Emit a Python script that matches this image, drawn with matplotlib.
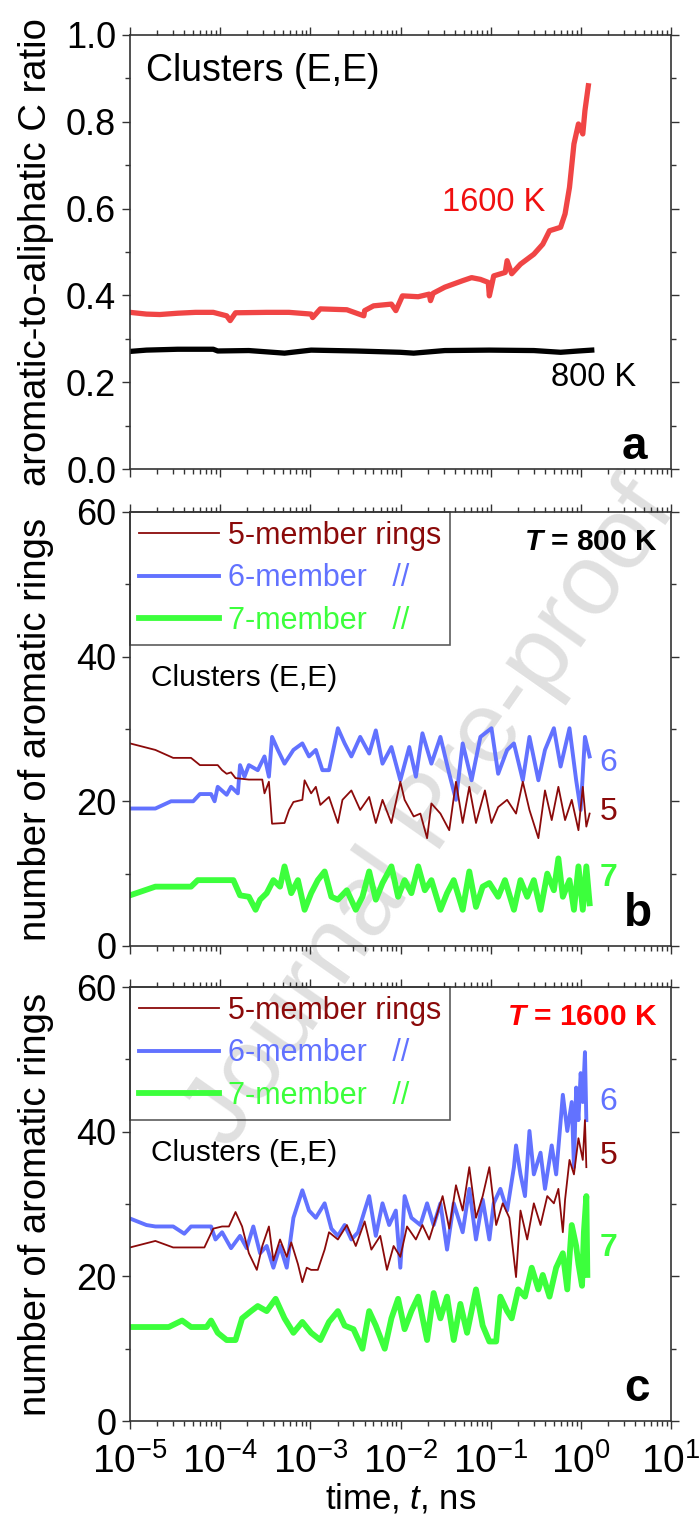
import numpy as np
import matplotlib
matplotlib.use("Agg")
import matplotlib.pyplot as plt
from matplotlib.ticker import LogLocator, MultipleLocator, FormatStrFormatter

plt.rcParams['font.family'] = 'Liberation Sans'
plt.rcParams['mathtext.fontset'] = 'custom'
plt.rcParams['mathtext.rm'] = 'Liberation Sans'
plt.rcParams['mathtext.it'] = 'Liberation Sans:italic'
plt.rcParams['mathtext.bf'] = 'Liberation Sans:bold'
plt.rcParams['mathtext.bfit'] = 'Liberation Sans:italic:bold'

# ---- panel a: aromatic-to-aliphatic C ratio ----
a_t_1600 = [1.0e-5, 1.52e-5, 2.14e-5, 3.38e-5, 5.32e-5, 8.38e-5, 1.18e-4, 1.29e-4, 1.48e-4,
            3.28e-4, 5.80e-4, 1.02e-3, 1.06e-3, 1.29e-3, 2.54e-3, 3.92e-3, 4.00e-3, 5.02e-3,
            7.92e-3, 8.87e-3, 1.05e-2, 1.57e-2, 2.08e-2, 2.15e-2, 2.3e-2, 3.10e-2, 4.89e-2,
            6.14e-2, 7.69e-2, 9.40e-2, 9.66e-2, 1.08e-1, 1.45e-1, 1.52e-1, 1.71e-1, 2.14e-1,
            3.01e-1, 3.78e-1, 4.49e-1, 5.96e-1, 6.68e-1, 7.48e-1, 8.38e-1, 9.40e-1, 1.05,
            1.11, 1.21]
a_v_1600 = [0.361, 0.357, 0.356, 0.359, 0.361, 0.361, 0.353, 0.342, 0.360,
            0.361, 0.361, 0.357, 0.349, 0.369, 0.367, 0.353, 0.365, 0.376,
            0.380, 0.365, 0.399, 0.397, 0.403, 0.388, 0.405, 0.419, 0.434,
            0.441, 0.437, 0.430, 0.399, 0.445, 0.453, 0.480, 0.450, 0.472,
            0.495, 0.518, 0.549, 0.557, 0.588, 0.649, 0.749, 0.795, 0.772,
            0.826, 0.883]
a_t_800 = [1.0e-5, 1.52e-5, 3.38e-5, 8.38e-5, 9.39e-5, 2.08e-4, 5.17e-4, 1.02e-3, 3.19e-3,
           9.95e-3, 1.40e-2, 3.10e-2, 9.66e-2, 3.01e-1, 5.96e-1, 9.40e-1, 1.32]
a_v_800 = [0.271, 0.274, 0.276, 0.276, 0.272, 0.273, 0.267, 0.274, 0.272,
           0.269, 0.267, 0.273, 0.274, 0.273, 0.269, 0.272, 0.274]

# ---- panel b: T = 800 K ----
b_t_5 = [1.0e-5, 1.91e-5, 3.01e-5, 4.75e-5, 5.96e-5, 9.39e-5, 1.05e-4, 1.18e-4, 1.32e-4,
         1.48e-4, 2.08e-4, 2.93e-4, 3.10e-4, 3.47e-4, 3.76e-4, 5.17e-4, 5.80e-4, 6.49e-4,
         8.15e-4, 8.63e-4, 1.02e-3, 1.15e-3, 1.29e-3, 1.61e-3, 2.02e-3, 2.27e-3, 2.85e-3,
         3.57e-3, 4.49e-3, 5.32e-3, 6.31e-3, 7.92e-3, 9.95e-3, 1.11e-2, 1.40e-2, 1.66e-2,
         1.97e-2, 2.20e-2, 2.77e-2, 3.47e-2, 4.12e-2, 4.89e-2, 5.79e-2, 6.87e-2, 8.63e-2,
         1.02e-1, 1.21e-1, 1.52e-1, 1.91e-1, 2.27e-1, 2.69e-1, 3.38e-1, 4.00e-1, 4.75e-1,
         5.63e-1, 6.68e-1, 7.92e-1, 9.40e-1, 1.05, 1.15, 1.25]
b_v_5 = [28.0, 27.1, 26.0, 26.0, 25.0, 25.0, 24.3, 23.8, 24.0,
         23.2, 23.0, 23.0, 21.1, 22.7, 16.9, 17.0, 18.8, 19.9,
         20.2, 22.9, 21.1, 22.0, 19.5, 20.6, 17.0, 20.2, 21.5,
         18.8, 20.6, 17.0, 20.2, 17.0, 22.7, 20.2, 17.9, 18.3,
         14.9, 19.7, 18.3, 16.0, 22.7, 17.0, 22.0, 17.0, 21.5,
         17.0, 19.2, 20.2, 18.3, 22.7, 18.8, 14.9, 21.5, 17.4,
         22.0, 17.4, 20.2, 16.0, 22.0, 16.5, 18.3]
b_t_6 = [1.0e-5, 1.91e-5, 2.85e-5, 5.02e-5, 5.96e-5, 7.92e-5, 8.67e-5, 9.39e-5, 1.18e-4,
         1.32e-4, 1.57e-4, 1.66e-4, 1.86e-4, 2.08e-4, 2.61e-4, 3.10e-4, 3.47e-4, 3.76e-4,
         4.36e-4, 5.17e-4, 6.49e-4, 8.15e-4, 9.66e-4, 1.15e-3, 1.36e-3, 1.61e-3, 2.02e-3,
         2.40e-3, 2.85e-3, 3.57e-3, 4.49e-3, 5.32e-3, 6.31e-3, 7.92e-3, 9.95e-3, 1.25e-2,
         1.48e-2, 1.75e-2, 2.20e-2, 2.77e-2, 3.47e-2, 4.12e-2, 4.89e-2, 6.14e-2, 7.69e-2,
         1.02e-1, 1.21e-1, 1.52e-1, 1.81e-1, 2.27e-1, 2.69e-1, 3.38e-1, 4.00e-1, 5.02e-1,
         5.96e-1, 7.48e-1, 8.87e-1, 9.95e-1, 1.11, 1.25]
b_v_6 = [19.0, 19.0, 20.0, 20.0, 21.0, 21.0, 20.0, 22.0, 20.9,
         22.0, 21.1, 25.0, 23.4, 25.0, 24.3, 26.2, 23.4, 28.9,
         27.1, 25.2, 27.1, 28.0, 26.2, 27.1, 24.3, 24.3, 30.1,
         28.0, 26.2, 28.9, 26.6, 29.8, 25.2, 27.5, 22.9, 27.5,
         23.4, 29.4, 25.2, 28.9, 23.8, 20.2, 28.0, 22.9, 28.9,
         30.1, 23.8, 27.1, 28.0, 22.9, 28.9, 22.9, 27.1, 30.1,
         24.8, 30.1, 22.9, 18.8, 28.9, 26.2]
b_t_7 = [1.0e-5, 1.91e-5, 4.75e-5, 5.63e-5, 1.40e-4, 1.66e-4, 2.08e-4, 2.47e-4, 2.77e-4,
         3.28e-4, 3.89e-4, 4.61e-4, 5.17e-4, 6.14e-4, 7.28e-4, 8.63e-4, 1.02e-3, 1.21e-3,
         1.44e-3, 1.71e-3, 2.02e-3, 2.54e-3, 3.19e-3, 3.78e-3, 4.49e-3, 5.32e-3, 6.31e-3,
         7.92e-3, 9.40e-3, 1.11e-2, 1.32e-2, 1.57e-2, 1.86e-2, 2.20e-2, 2.77e-2, 3.28e-2,
         3.89e-2, 4.89e-2, 5.79e-2, 6.87e-2, 8.15e-2, 9.66e-2, 1.21e-1, 1.44e-1, 1.81e-1,
         2.14e-1, 2.54e-1, 3.01e-1, 3.57e-1, 4.24e-1, 5.02e-1, 5.63e-1, 6.31e-1, 7.48e-1,
         8.38e-1, 9.40e-1, 1.05, 1.15, 1.25]
b_v_7 = [7.0, 8.2, 8.2, 9.1, 9.1, 7.0, 6.8, 5.0, 6.4,
         7.3, 9.1, 8.2, 11.0, 7.3, 9.1, 5.0, 7.3, 9.1,
         10.3, 6.8, 6.4, 7.7, 5.0, 6.8, 10.3, 6.4, 8.7,
         11.0, 6.8, 9.1, 7.3, 11.0, 7.7, 9.1, 5.0, 7.3,
         9.1, 5.0, 10.3, 5.4, 8.2, 8.7, 6.8, 9.1, 5.0,
         9.1, 6.8, 9.1, 5.0, 10.0, 7.7, 12.1, 6.8, 9.1,
         5.0, 11.0, 5.0, 11.0, 5.9]

# ---- panel c: T = 1600 K ----
c_t_5 = [1.0e-5, 1.91e-5, 3.01e-5, 6.68e-5, 8.38e-5, 1.05e-4, 1.25e-4, 1.48e-4, 1.75e-4,
         2.08e-4, 2.55e-4, 2.93e-4, 3.47e-4, 3.89e-4, 4.61e-4, 5.47e-4, 6.14e-4, 7.28e-4,
         8.15e-4, 9.12e-4, 1.02e-3, 1.21e-3, 1.44e-3, 1.61e-3, 2.02e-3, 2.54e-3, 3.19e-3,
         4.00e-3, 4.75e-3, 5.96e-3, 7.07e-3, 8.38e-3, 9.95e-3, 1.18e-2, 1.48e-2, 1.75e-2,
         2.08e-2, 2.47e-2, 2.93e-2, 3.47e-2, 4.12e-2, 4.89e-2, 5.79e-2, 6.87e-2, 8.15e-2,
         9.66e-2, 1.15e-1, 1.36e-1, 1.61e-1, 1.91e-1, 2.14e-1, 2.54e-1, 3.01e-1, 3.57e-1,
         4.24e-1, 5.02e-1, 5.63e-1, 6.31e-1, 6.68e-1, 7.48e-1, 8.38e-1, 9.40e-1, 1.05,
         1.11, 1.15]
c_v_5 = [24.0, 24.9, 24.0, 24.0, 26.6, 26.9, 26.9, 28.9, 26.9,
         23.2, 20.9, 24.2, 26.9, 22.2, 25.1, 22.7, 24.7, 21.7,
         19.2, 21.2, 20.9, 20.9, 23.7, 26.1, 25.1, 27.1, 24.2,
         27.6, 23.7, 25.6, 20.9, 24.2, 22.7, 26.9, 25.1, 27.1,
         25.1, 28.1, 31.1, 26.6, 32.6, 29.1, 35.1, 28.1, 31.1,
         35.1, 27.1, 30.1, 28.1, 19.9, 29.1, 25.1, 30.1, 27.1,
         31.1, 30.1, 32.1, 26.1, 30.6, 36.1, 34.1, 39.1, 36.1,
         41.6, 35.1]
c_t_6 = [1.0e-5, 1.52e-5, 1.91e-5, 3.01e-5, 4.0e-5, 4.75e-5, 7.92e-5, 8.87e-5, 1.05e-4,
         1.32e-4, 1.66e-4, 1.97e-4, 2.33e-4, 2.77e-4, 3.28e-4, 3.89e-4, 4.61e-4, 5.47e-4,
         6.49e-4, 8.15e-4, 9.66e-4, 1.15e-3, 1.44e-3, 1.71e-3, 2.02e-3, 2.40e-3, 2.85e-3,
         3.38e-3, 4.00e-3, 4.49e-3, 5.32e-3, 6.31e-3, 7.48e-3, 8.87e-3, 9.95e-3, 1.11e-2,
         1.32e-2, 1.66e-2, 1.97e-2, 2.33e-2, 2.77e-2, 3.28e-2, 3.89e-2, 4.89e-2, 5.79e-2,
         6.87e-2, 8.15e-2, 9.66e-2, 1.08e-1, 1.28e-1, 1.52e-1, 1.81e-1, 1.91e-1, 2.14e-1,
         2.40e-1, 2.69e-1, 3.01e-1, 3.57e-1, 4.00e-1, 4.75e-1, 5.32e-1, 6.31e-1, 7.07e-1,
         7.92e-1, 8.38e-1, 8.87e-1, 9.40e-1, 9.95e-1, 1.05, 1.11, 1.15]
c_v_6 = [28.0, 27.1, 26.9, 26.9, 25.9, 26.9, 26.9, 25.1, 26.1,
         23.9, 25.6, 23.9, 26.9, 23.2, 24.2, 21.2, 24.2, 21.2,
         28.1, 31.9, 29.1, 28.1, 30.1, 26.6, 25.6, 27.1, 25.1,
         26.1, 29.1, 31.1, 25.6, 30.1, 27.1, 29.1, 21.2, 31.1,
         28.1, 27.1, 30.1, 27.1, 30.1, 23.7, 30.1, 26.1, 32.1,
         25.1, 30.6, 25.1, 30.1, 32.1, 29.1, 35.1, 38.1, 34.1,
         31.1, 40.1, 34.1, 37.1, 32.1, 38.1, 34.1, 45.1, 40.1,
         44.1, 35.1, 46.1, 41.6, 48.1, 44.1, 51.0, 41.6]
c_t_7 = [1.0e-5, 2.69e-5, 3.78e-5, 4.75e-5, 7.07e-5, 7.92e-5, 9.39e-5, 1.18e-4, 1.48e-4,
         1.75e-4, 2.20e-4, 2.61e-4, 3.28e-4, 4.12e-4, 5.17e-4, 6.49e-4, 8.15e-4, 1.02e-3,
         1.29e-3, 1.61e-3, 2.02e-3, 2.40e-3, 3.01e-3, 3.78e-3, 4.49e-3, 5.32e-3, 6.68e-3,
         7.92e-3, 9.40e-3, 1.11e-2, 1.32e-2, 1.57e-2, 1.97e-2, 2.33e-2, 2.77e-2, 3.28e-2,
         3.89e-2, 4.61e-2, 5.47e-2, 6.87e-2, 8.15e-2, 9.66e-2, 1.15e-1, 1.28e-1, 1.52e-1,
         1.71e-1, 2.02e-1, 2.40e-1, 2.85e-1, 3.38e-1, 3.78e-1, 4.49e-1, 5.32e-1, 6.31e-1,
         7.07e-1, 7.92e-1, 8.87e-1, 9.40e-1, 1.03, 1.08, 1.15, 1.18]
c_v_7 = [13.0, 13.0, 13.9, 13.0, 13.0, 13.9, 12.2, 11.2, 11.2,
         14.2, 15.2, 15.9, 15.2, 16.9, 14.2, 12.2, 13.7, 12.2,
         11.2, 13.7, 15.2, 13.2, 12.7, 10.0, 15.2, 13.2, 10.0,
         14.2, 16.9, 12.7, 15.2, 17.2, 11.2, 17.7, 14.2, 17.2,
         11.2, 16.2, 12.2, 18.2, 13.2, 11.0, 11.0, 17.2, 15.2,
         14.2, 18.2, 17.2, 21.2, 18.2, 20.2, 17.2, 21.2, 23.2,
         18.2, 27.1, 24.2, 21.7, 18.7, 26.1, 31.1, 20.2]

labels = ["5-member rings", "6-member   //", "7-member   //"]
col5, col6, col7 = "#8b0a0a", "#6272ff", "#3cff3c"
lw5, lw6, lw7 = 1.3, 2.8, 4.2

fig = plt.figure(figsize=(6.99, 15.15), dpi=100)
ax_a = fig.add_axes([0.186, 0.6904, 0.774, 0.2865])
ax_b = fig.add_axes([0.186, 0.3756, 0.774, 0.2865])
ax_c = fig.add_axes([0.186, 0.0620, 0.774, 0.2865])

for ax in (ax_a, ax_b, ax_c):
    ax.set_xscale('log')
    ax.set_xlim(1e-5, 10)
    ax.set_facecolor('none')
    ax.xaxis.set_major_locator(LogLocator(base=10, numticks=12))
    ax.xaxis.set_minor_locator(LogLocator(base=10, subs=np.arange(2, 10), numticks=12))
    ax.tick_params(which='both', direction='out', top=True, right=True,
                   width=1, color='#333333', labelsize=26, pad=4)
    ax.tick_params(axis='x', labelsize=28, pad=10)
    ax.tick_params(which='major', length=6)
    ax.tick_params(which='minor', length=3.5)
    for s in ax.spines.values():
        s.set_color('#333333')
        s.set_linewidth(1.2)
    ax.yaxis.set_label_coords(-0.14, 0.5)

# panel a
ax_a.plot(a_t_800, a_v_800, color='black', lw=3.8, solid_joinstyle='round')
ax_a.plot(a_t_1600, a_v_1600, color='#f04545', lw=3.8, solid_joinstyle='round')
ax_a.set_ylim(0, 1.0)
ax_a.yaxis.set_major_locator(MultipleLocator(0.2))
ax_a.yaxis.set_minor_locator(MultipleLocator(0.1))
ax_a.yaxis.set_major_formatter(FormatStrFormatter('%.1f'))
ax_a.tick_params(labelbottom=False)
ax_a.set_ylabel("aromatic-to-aliphatic C ratio", fontsize=27.5)
ax_a.text(0.03, 0.917, "Clusters (E,E)", transform=ax_a.transAxes, fontsize=27, va='center')
ax_a.text(0.673, 0.613, "1600 K", transform=ax_a.transAxes, fontsize=23.5, color='#f01010',
          ha='center', va='center')
ax_a.text(0.856, 0.212, "800 K", transform=ax_a.transAxes, fontsize=23.5, color='black',
          ha='center', va='center')
ax_a.text(0.933, 0.051, "a", transform=ax_a.transAxes, fontsize=33, fontweight='bold',
          ha='center', va='center')

# panels b and c
panels = [
    (ax_b, b_t_5, b_v_5, b_t_6, b_v_6, b_t_7, b_v_7, r"$\mathbfit{T}$ = 800 K", 'black',
     "b", (25.3, 18.5, 9.4)),
    (ax_c, c_t_5, c_v_5, c_t_6, c_v_6, c_t_7, c_v_7, r"$\mathbfit{T}$ = 1600 K", '#ff0000',
     "c", (44.1, 36.6, 23.9)),
]
for ax, t5, v5, t6, v6, t7, v7, ttl, tcol, letter, ypos in panels:
    l7, = ax.plot(t7, v7, color=col7, lw=lw7, solid_joinstyle='round')
    l6, = ax.plot(t6, v6, color=col6, lw=lw6, solid_joinstyle='round')
    l5, = ax.plot(t5, v5, color=col5, lw=lw5)
    ax.set_ylim(0, 60)
    ax.yaxis.set_major_locator(MultipleLocator(20))
    ax.yaxis.set_minor_locator(MultipleLocator(10))
    ax.set_ylabel("number of aromatic rings", fontsize=27.5)
    leg = ax.legend([l5, l6, l7], labels, loc='upper left', bbox_to_anchor=(0, 1),
                    borderaxespad=0, fancybox=False, fontsize=22, handlelength=2.6,
                    handletextpad=0.3, labelspacing=0.4, borderpad=0.3)
    leg.get_frame().set_facecolor('none')
    leg.get_frame().set_edgecolor('#333333')
    leg.get_frame().set_linewidth(1.2)
    for txt, c in zip(leg.get_texts(), (col5, col6, col7)):
        txt.set_color(c)
    ax.text(0.975, 0.93, ttl, transform=ax.transAxes, fontsize=21.5, fontweight='bold',
            color=tcol, ha='right', va='center')
    ax.text(0.038, 0.617, "Clusters (E,E)", transform=ax.transAxes, fontsize=21.5, va='center')
    for lab, y, c in zip(("6", "5", "7"), ypos, (col6, col5, col7)):
        ax.text(0.884, y, lab, transform=ax.get_yaxis_transform(), fontsize=23, color=c,
                ha='center', va='center', fontweight='bold' if lab == "7" else 'normal')
    ax.text(0.938, 0.074, letter, transform=ax.transAxes, fontsize=33, fontweight='bold',
            ha='center', va='center')

ax_b.tick_params(labelbottom=False)
ax_c.set_xlabel(r"time, $\mathit{t}$, ns", fontsize=25, labelpad=0)

fig.text(0.618, 0.462, "Journal Pre-proof", rotation=55, fontsize=73, color='#e0e0e0',
         ha='center', va='center', zorder=-1)

fig.savefig("out.png", dpi=100)
